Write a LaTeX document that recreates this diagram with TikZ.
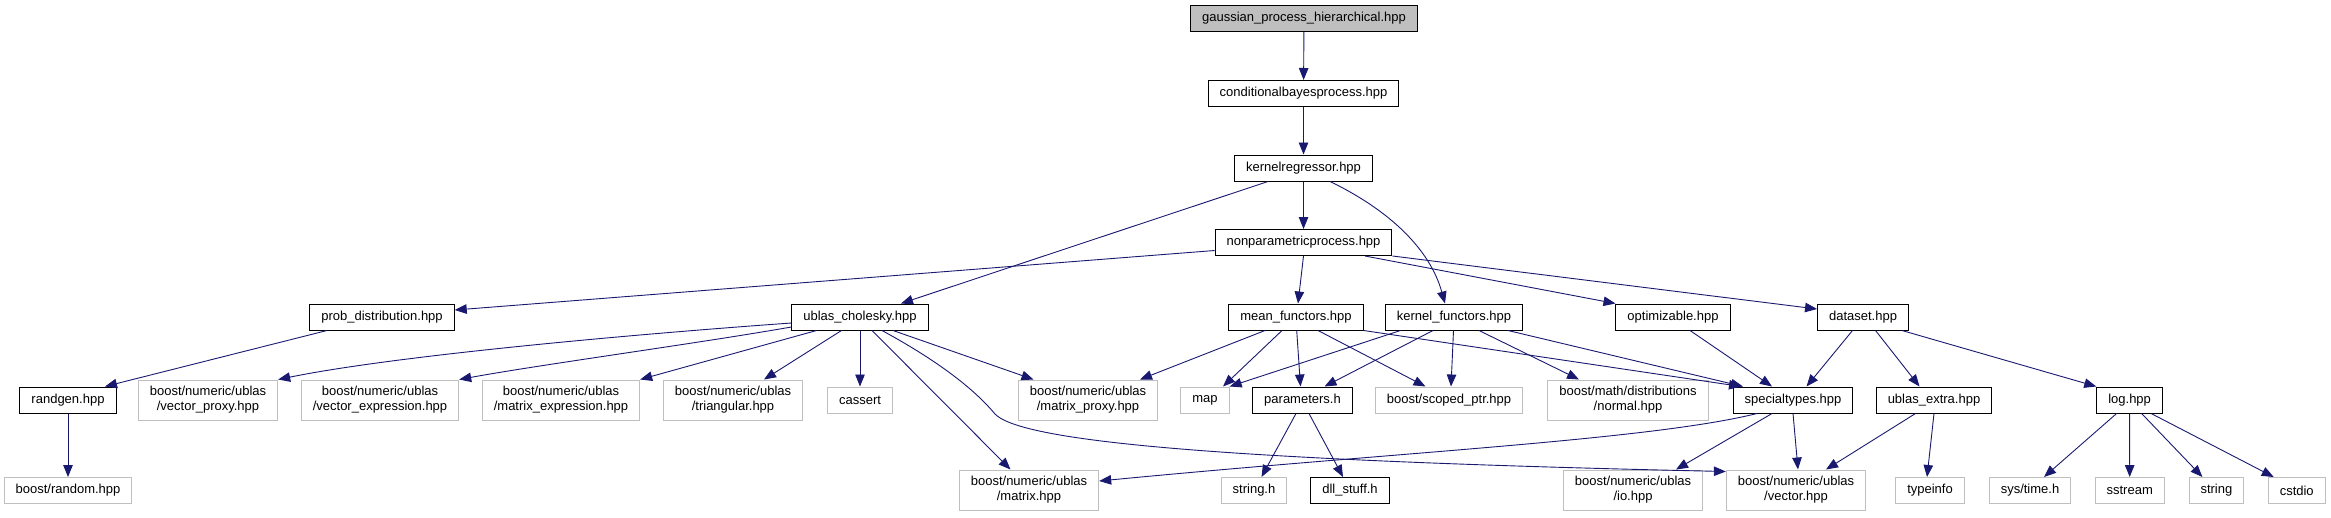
\documentclass[tikz,border=0pt]{standalone}
\usepackage{fontspec}
\setmainfont{Liberation Sans}
\usetikzlibrary{arrows.meta}
\definecolor{edgeblue}{HTML}{191970}
\definecolor{boxgray}{HTML}{BFBFBF}

\begin{document}
\begin{tikzpicture}[x=1pt, y=-1pt,
	every node/.style={rectangle, font=\fontsize{13}{15}\selectfont, inner xsep=11.5pt, inner ysep=3pt, minimum height=26pt, align=center},
	hdr/.style={draw=black, line width=1pt, fill=white},
	lib/.style={draw=boxgray, line width=1pt, fill=white},
	lib2/.style={lib, minimum height=40pt},
	root/.style={hdr, fill=boxgray},
	dep/.style={draw=edgeblue, line width=0.9pt, -{Triangle[length=12pt, width=9.5pt]}}]
	\useasboundingbox (0,0) rectangle (2331,517);

	\node[root] (gph) at (1304,18.5) {gaussian\_process\_hierarchical.hpp};
	\node[hdr] (cbp) at (1303.5,93.5) {conditionalbayesprocess.hpp};
	\node[hdr] (kr) at (1303.5,168) {kernelregressor.hpp};
	\node[hdr] (npp) at (1303.5,242.5) {nonparametricprocess.hpp};

	\node[hdr] (pd) at (382,317) {prob\_distribution.hpp};
	\node[hdr] (ubc) at (860,317) {ublas\_cholesky.hpp};
	\node[hdr] (mf) at (1296,317) {mean\_functors.hpp};
	\node[hdr] (kf) at (1454,317) {kernel\_functors.hpp};
	\node[hdr] (opt) at (1673,317) {optimizable.hpp};
	\node[hdr] (ds) at (1863,317) {dataset.hpp};

	\node[hdr] (rg) at (68,400) {randgen.hpp};
	\node[lib2] (vp) at (208,400) {boost/numeric/ublas\\/vector\_proxy.hpp};
	\node[lib2] (ve) at (380,400) {boost/numeric/ublas\\/vector\_expression.hpp};
	\node[lib2] (me) at (561,400) {boost/numeric/ublas\\/matrix\_expression.hpp};
	\node[lib2] (tri) at (733,400) {boost/numeric/ublas\\/triangular.hpp};
	\node[lib] (cas) at (860,400) {cassert};
	\node[lib2] (mp) at (1088,400) {boost/numeric/ublas\\/matrix\_proxy.hpp};
	\node[lib] (map) at (1205,400) {map};
	\node[hdr] (par) at (1302.5,400) {parameters.h};
	\node[lib] (sp) at (1449,400) {boost/scoped\_ptr.hpp};
	\node[lib2] (nrm) at (1628,400) {boost/math/distributions\\/normal.hpp};
	\node[hdr] (st) at (1793,400) {specialtypes.hpp};
	\node[hdr] (ue) at (1934,400) {ublas\_extra.hpp};
	\node[hdr] (log) at (2129.6,400) {log.hpp};

	\node[lib] (br) at (68,490.5) {boost/random.hpp};
	\node[lib2] (mat) at (1029,490) {boost/numeric/ublas\\/matrix.hpp};
	\node[lib] (strh) at (1254,490.5) {string.h};
	\node[hdr] (dll) at (1350,490.5) {dll\_stuff.h};
	\node[lib2] (io) at (1633,490) {boost/numeric/ublas\\/io.hpp};
	\node[lib2] (vec) at (1796,490) {boost/numeric/ublas\\/vector.hpp};
	\node[lib] (ti) at (1930,490.5) {typeinfo};
	\node[lib] (tm) at (2030,490.5) {sys/time.h};
	\node[lib] (ss) at (2129.7,490.5) {sstream};
	\node[lib] (str) at (2216.4,490.5) {string};
	\node[lib] (cst) at (2296.7,490.5) {cstdio};

	\draw[dep] (gph) -- (cbp);
	\draw[dep] (cbp) -- (kr);
	\draw[dep] (kr) -- (npp);
	\draw[dep] ([xshift=-35.5pt]kr.south) -- ([xshift=41pt]ubc.north);
	\draw[dep] ([xshift=26.5pt]kr.south) .. controls +(60,29) and +(-15,-54) .. ([xshift=-9pt]kf.north);

	\draw[dep] ([yshift=-8pt]npp.west) -- ([yshift=7pt]pd.east);
	\draw[dep] (npp.south) -- ([xshift=2pt]mf.north);
	\draw[dep] ([xshift=61.5pt]npp.south) -- (opt.north west);
	\draw[dep] (npp.south east) -- ([yshift=8pt]ds.west);

	\draw[dep] ([xshift=-55pt]pd.south) -- ([xshift=37pt]rg.north);
	\draw[dep] (rg) -- (br);

	\draw[dep] ([yshift=-6pt]ubc.west) .. controls +(-141,10) and +(123,-25) .. (vp.north east);
	\draw[dep] ([yshift=-10pt]ubc.west) .. controls +(-91,16) and +(82,-15) .. (ve.north east);
	\draw[dep] ([xshift=-43.5pt]ubc.south) -- (me.north east);
	\draw[dep] ([xshift=-18.5pt]ubc.south) -- ([xshift=31pt]tri.north);
	\draw[dep] (ubc) -- (cas);
	\draw[dep] ([xshift=12pt]ubc.south) -- ([xshift=-18.5pt]mat.north);
	\draw[dep] ([xshift=22pt]ubc.south) .. controls (940,362) and (975,390) .. (995,414)
		.. controls (1020,440) and (1200,460) .. ([yshift=-2pt]vec.north west);
	\draw[dep] ([xshift=33pt]ubc.south) -- ([xshift=-54.5pt]mp.north);

	\draw[dep] ([xshift=-31pt]mf.south) -- ([xshift=52pt]mp.north);
	\draw[dep] ([xshift=-14pt]mf.south) -- ([xshift=18pt]map.north);
	\draw[dep] ([xshift=0.7pt]mf.south) -- ([xshift=-2pt]par.north);
	\draw[dep] ([xshift=22pt]mf.south) -- ([xshift=-23.5pt]sp.north);
	\draw[dep] (mf.south east) -- ([xshift=-52pt]st.north);

	\draw[dep] ([xshift=-53.5pt]kf.south) -- (map.north east);
	\draw[dep] ([xshift=-21pt]kf.south) -- ([xshift=22pt]par.north);
	\draw[dep] ([xshift=-0.5pt]kf.south) -- ([xshift=2pt]sp.north);
	\draw[dep] ([xshift=25pt]kf.south) -- ([xshift=-49pt]nrm.north);
	\draw[dep] ([xshift=54pt]kf.south) -- ([xshift=-50pt]st.north);

	\draw[dep] ([xshift=17pt]opt.south) -- ([xshift=-21pt]st.north);
	\draw[dep] ([xshift=-10.5pt]ds.south) -- ([xshift=13.5pt]st.north);
	\draw[dep] ([xshift=12.5pt]ds.south) -- ([xshift=-14.5pt]ue.north);
	\draw[dep] ([xshift=39pt]ds.south) -- (log.north west);

	\draw[dep] ([xshift=-6.5pt]par.south) -- ([xshift=7.5pt]strh.north);
	\draw[dep] ([xshift=6.5pt]par.south) -- ([xshift=-7pt]dll.north);

	\draw[dep] ([xshift=-36pt]st.south) .. controls (1650,440) and (1400,452) .. ([yshift=9pt]mat.east);
	\draw[dep] ([xshift=-21pt]st.south) -- ([xshift=43pt]io.north);
	\draw[dep] (st.south) -- ([xshift=2pt]vec.north);
	\draw[dep] ([xshift=-18.5pt]ue.south) -- ([xshift=30pt]vec.north);
	\draw[dep] (ue.south) -- ([xshift=-3pt]ti.north);

	\draw[dep] ([xshift=-13pt]log.south) -- ([xshift=14pt]tm.north);
	\draw[dep] (log) -- (ss);
	\draw[dep] ([xshift=12pt]log.south) -- ([xshift=-14pt]str.north);
	\draw[dep] ([xshift=21.5pt]log.south) -- ([xshift=-23pt]cst.north);
\end{tikzpicture}
\end{document}
